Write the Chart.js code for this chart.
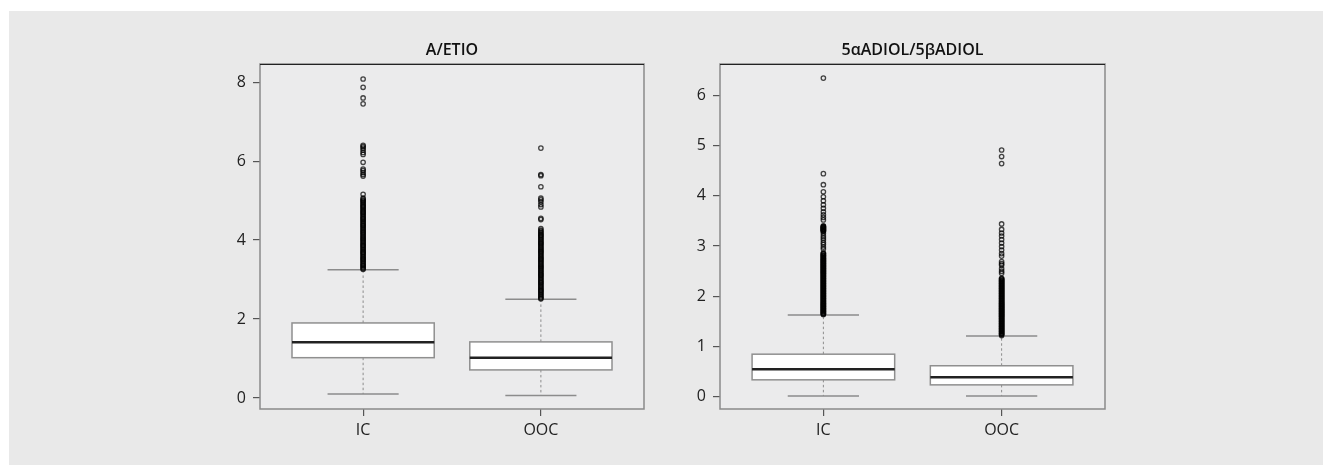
<!DOCTYPE html>
<html>
<head>
<meta charset="utf-8">
<script src="https://cdn.jsdelivr.net/npm/chart.js@4"></script>
<style>
  html, body { margin: 0; padding: 0; background: #fff; }
  body { width: 1323px; height: 465px; position: relative; overflow: hidden; }
  #panel { position: absolute; left: 9px; top: 11px; right: 0; bottom: 0; background: #e9e9e9; }
  canvas { position: absolute; top: 30px; }
  #chartA { left: 200px; }
  #chartB { left: 660px; }
</style>
</head>
<body>
<div id="panel"></div>
<canvas id="chartA" width="460" height="420"></canvas>
<canvas id="chartB" width="460" height="420"></canvas>
<script>
const categories = ["IC", "OOC"];

// A/ETIO
const titleA = "A/ETIO";
const ticksA = [0, 2, 4, 6, 8];
const lowA = [0.10, 0.06];
const q1A = [1.02, 0.71];
const medA = [1.41, 1.02];
const q3A = [1.90, 1.42];
const highA = [3.25, 2.50];
const outIcA = [8.08, 7.87, 7.60, 7.45, 6.40, 6.37, 6.33, 6.28, 6.22, 6.17, 5.97, 5.80, 5.76, 5.71, 5.66, 5.62, 5.16,
  5.06, 5.03, 5.00, 4.98, 4.95, 4.92, 4.89, 4.86, 4.84, 4.81, 4.78, 4.75, 4.72, 4.70, 4.67, 4.64, 4.61, 4.58, 4.55,
  4.53, 4.50, 4.47, 4.44, 4.41, 4.38, 4.36, 4.33, 4.30, 4.27, 4.24, 4.21, 4.19, 4.16, 4.13, 4.10, 4.07, 4.04, 4.02,
  3.99, 3.96, 3.93, 3.90, 3.87, 3.85, 3.82, 3.79, 3.76, 3.73, 3.70, 3.68, 3.65, 3.62, 3.59, 3.56, 3.53, 3.51, 3.48,
  3.45, 3.42, 3.39, 3.36, 3.34, 3.31, 3.28, 3.26];
const outOocA = [6.33, 5.66, 5.63, 5.35, 5.06, 5.02, 4.97, 4.90, 4.84, 4.55, 4.52, 4.29,
  4.25, 4.22, 4.19, 4.16, 4.13, 4.11, 4.08, 4.05, 4.02, 3.99, 3.96, 3.93, 3.91, 3.88, 3.85, 3.82, 3.79, 3.76, 3.73,
  3.71, 3.68, 3.65, 3.62, 3.59, 3.56, 3.53, 3.51, 3.48, 3.45, 3.42, 3.39, 3.36, 3.33, 3.31, 3.28, 3.25, 3.22, 3.19,
  3.16, 3.13, 3.11, 3.08, 3.05, 3.02, 2.99, 2.96, 2.93, 2.91, 2.88, 2.85, 2.82, 2.79, 2.76, 2.73, 2.71, 2.68, 2.65,
  2.62, 2.59, 2.56, 2.53, 2.51];

// 5aADIOL/5bADIOL
const titleB = "5αADIOL/5βADIOL";
const ticksB = [0, 1, 2, 3, 4, 5, 6];
const lowB = [0.02, 0.02];
const q1B = [0.34, 0.24];
const medB = [0.55, 0.39];
const q3B = [0.85, 0.62];
const highB = [1.63, 1.21];
const outIcB = [6.34, 4.44, 4.22, 4.08, 3.98, 3.90, 3.82, 3.75, 3.68, 3.62, 3.57, 3.52,
  3.40, 3.39, 3.38, 3.37, 3.36, 3.35, 3.34, 3.33, 3.32, 3.31, 3.30, 3.29,
  3.25, 3.20, 3.16, 3.12, 3.07, 3.03, 2.98, 2.94,
  2.86, 2.85, 2.84, 2.82, 2.81, 2.80, 2.79, 2.77, 2.76, 2.75, 2.74, 2.72, 2.71, 2.70, 2.69, 2.67, 2.66, 2.65, 2.64,
  2.62, 2.61, 2.60, 2.59, 2.57, 2.56, 2.55, 2.54, 2.52, 2.51, 2.50, 2.49, 2.47, 2.46, 2.45, 2.44, 2.42, 2.41, 2.40,
  2.39, 2.37, 2.36, 2.35, 2.34, 2.32, 2.31, 2.30, 2.29, 2.27, 2.26, 2.25, 2.24, 2.22, 2.21, 2.20, 2.19, 2.17, 2.16,
  2.15, 2.14, 2.12, 2.11, 2.10, 2.09, 2.07, 2.06, 2.05, 2.04, 2.02, 2.01, 2.00, 1.99, 1.97, 1.96, 1.95, 1.94, 1.92,
  1.91, 1.90, 1.89, 1.87, 1.86, 1.85, 1.84, 1.82, 1.81, 1.80, 1.79, 1.77, 1.76, 1.75, 1.74, 1.72, 1.71, 1.70, 1.69,
  1.67, 1.66, 1.65, 1.64];
const outOocB = [4.91, 4.78, 4.64, 3.44, 3.33, 3.26, 3.20, 3.13, 3.06, 2.99, 2.92, 2.85, 2.80, 2.69, 2.65, 2.62,
  2.55, 2.50, 2.46,
  2.36, 2.35, 2.34, 2.32, 2.31, 2.30, 2.29, 2.27, 2.26, 2.25, 2.24, 2.22, 2.21, 2.20, 2.19, 2.17, 2.16, 2.15, 2.14,
  2.12, 2.11, 2.10, 2.09, 2.07, 2.06, 2.05, 2.04, 2.02, 2.01, 2.00, 1.99, 1.97, 1.96, 1.95, 1.94, 1.92, 1.91, 1.90,
  1.89, 1.87, 1.86, 1.85, 1.84, 1.82, 1.81, 1.80, 1.79, 1.77, 1.76, 1.75, 1.74, 1.72, 1.71, 1.70, 1.69, 1.67, 1.66,
  1.65, 1.64, 1.62, 1.61, 1.60, 1.59, 1.57, 1.56, 1.55, 1.54, 1.52, 1.51, 1.50, 1.49, 1.47, 1.46, 1.45, 1.44, 1.42,
  1.41, 1.40, 1.39, 1.37, 1.36, 1.35, 1.34, 1.32, 1.31, 1.30, 1.29, 1.27, 1.26, 1.25, 1.24, 1.22];

Chart.defaults.font.family = '"Open Sans", sans-serif';
Chart.defaults.color = "#222";

function makeBoxChart(id, title, yTicks, yMin, yMax, stats, outliers, padRight) {
    // boxes, whiskers and frame drawn through the chart's own scales
    const boxPlugin = {
        id: "boxes",
        beforeDraw(chart) {
            const { ctx, chartArea: a } = chart;
            ctx.save();
            ctx.fillStyle = "#ebebec";
            ctx.fillRect(a.left, a.top, a.right - a.left, a.bottom - a.top);
            ctx.restore();
        },
        beforeDatasetsDraw(chart) {
            const { ctx, chartArea: a, scales: { x, y } } = chart;
            ctx.save();
            ctx.beginPath();
            ctx.rect(a.left, a.top, a.right - a.left, a.bottom - a.top);
            ctx.clip();
            categories.forEach((c, i) => {
                const pos = i + 1;
                const cx = x.getPixelForValue(pos);
                const bl = x.getPixelForValue(pos - 0.4), br = x.getPixelForValue(pos + 0.4);
                const cl = x.getPixelForValue(pos - 0.2), cr = x.getPixelForValue(pos + 0.2);
                const yLo = y.getPixelForValue(stats.low[i]);
                const yQ1 = y.getPixelForValue(stats.q1[i]);
                const yMed = y.getPixelForValue(stats.med[i]);
                const yQ3 = y.getPixelForValue(stats.q3[i]);
                const yHi = y.getPixelForValue(stats.high[i]);

                // dashed whiskers
                ctx.strokeStyle = "#8c8c8c";
                ctx.lineWidth = 1;
                ctx.setLineDash([2.5, 2.5]);
                ctx.beginPath();
                ctx.moveTo(cx, yQ3); ctx.lineTo(cx, yHi);
                ctx.moveTo(cx, yQ1); ctx.lineTo(cx, yLo);
                ctx.stroke();
                ctx.setLineDash([]);

                // caps
                ctx.lineWidth = 1.5;
                ctx.beginPath();
                ctx.moveTo(cl, yHi); ctx.lineTo(cr, yHi);
                ctx.moveTo(cl, yLo); ctx.lineTo(cr, yLo);
                ctx.stroke();

                // box
                ctx.fillStyle = "#ffffff";
                ctx.fillRect(bl, yQ3, br - bl, yQ1 - yQ3);
                ctx.strokeStyle = "#8f8f8f";
                ctx.lineWidth = 1.5;
                ctx.strokeRect(bl, yQ3, br - bl, yQ1 - yQ3);

                // median
                ctx.strokeStyle = "#222";
                ctx.lineWidth = 2.5;
                ctx.beginPath();
                ctx.moveTo(bl, yMed); ctx.lineTo(br, yMed);
                ctx.stroke();
            });
            ctx.restore();
        },
        afterDraw(chart) {
            const { ctx, chartArea: a } = chart;
            ctx.save();
            ctx.strokeStyle = "#8a8a8a";
            ctx.lineWidth = 1.5;
            ctx.strokeRect(a.left, a.top, a.right - a.left, a.bottom - a.top);
            ctx.strokeStyle = "#222";
            ctx.lineWidth = 1;
            ctx.beginPath();
            ctx.moveTo(a.left, a.top + 0.5); ctx.lineTo(a.right, a.top + 0.5);
            ctx.stroke();
            ctx.fillStyle = "#111";
            ctx.font = '600 16px "Open Sans", sans-serif';
            ctx.textAlign = "center";
            ctx.textBaseline = "middle";
            ctx.fillText(title, (a.left + a.right) / 2, a.top - 14);
            ctx.restore();
        }
    };

    const datasets = outliers.map((vals, i) => ({
        data: vals.map(v => ({ x: i + 1, y: v })),
        pointStyle: "circle",
        pointRadius: 2.2,
        pointBorderWidth: 1.3,
        pointBorderColor: "rgba(0,0,0,0.72)",
        pointBackgroundColor: "rgba(0,0,0,0)",
        showLine: false
    }));

    return new Chart(document.getElementById(id), {
        type: "scatter",
        data: { datasets: datasets },
        options: {
            responsive: false,
            animation: false,
            layout: { padding: { top: 34, right: padRight, left: 0, bottom: 0 } },
            plugins: { legend: { display: false }, tooltip: { enabled: false } },
            scales: {
                x: {
                    type: "linear",
                    min: 0.42,
                    max: 2.58,
                    afterBuildTicks: s => { s.ticks = categories.map((c, i) => ({ value: i + 1 })); },
                    afterFit: s => { s.height = 41; },
                    ticks: {
                        callback: v => categories[v - 1],
                        font: { size: 16 },
                        color: "#222",
                        padding: 5,
                        maxRotation: 0
                    },
                    grid: { drawOnChartArea: false, tickLength: 7, color: "#555", lineWidth: 1.2 },
                    border: { display: false }
                },
                y: {
                    min: yMin,
                    max: yMax,
                    afterBuildTicks: s => { s.ticks = yTicks.map(v => ({ value: v })); },
                    afterFit: s => { s.width = 60; },
                    ticks: { font: { size: 16 }, color: "#222", padding: 7 },
                    grid: { drawOnChartArea: false, tickLength: 7, color: "#555", lineWidth: 1.2 },
                    border: { display: false }
                }
            }
        },
        plugins: [boxPlugin]
    });
}

makeBoxChart("chartA", titleA, ticksA, -0.28, 8.46,
    { low: lowA, q1: q1A, med: medA, q3: q3A, high: highA },
    [outIcA, outOocA], 16);

makeBoxChart("chartB", titleB, ticksB, -0.24, 6.62,
    { low: lowB, q1: q1B, med: medB, q3: q3B, high: highB },
    [outIcB, outOocB], 15);
</script>
</body>
</html>
